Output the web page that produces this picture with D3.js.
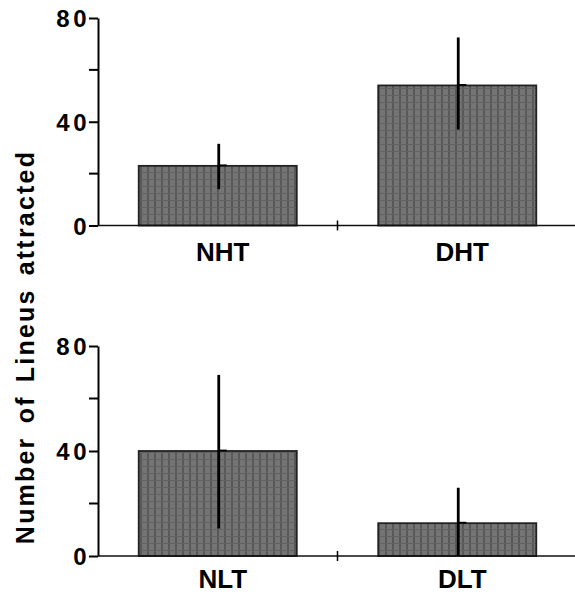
<!DOCTYPE html>
<html>
<head>
<meta charset="utf-8">
<script src="https://cdn.jsdelivr.net/npm/d3@7/dist/d3.min.js"></script>
<style>
body{margin:0;background:#fff}
svg{display:block}
text{font-family:"Liberation Sans",Arial,sans-serif;font-weight:bold;fill:#000}
.tick text{font-size:24px;letter-spacing:3.5px}
.cat{font-size:26px}
.title{font-size:25px;letter-spacing:2.2px;word-spacing:4px}
</style>
</head>
<body>
<svg id="graph"></svg>
<script>
// values
var topCategories = ["NHT","DHT"]
var topMeans = [23,54]
var topHigh = [31.5,72.5]
var topLow = [14,37]

var bottomCategories = ["NLT","DLT"]
var bottomMeans = [40,12.5]
var bottomHigh = [69,26]
var bottomLow = [10.5,0]

var yTicks = [0,40,80]
var yMinorTicks = [20,60]

var screen = {width:575,height:596}

var svg = d3.select("#graph")
    .attr("width",screen.width)
    .attr("height",screen.height)

// scan-like bar texture
var pat = svg.append("defs").append("pattern")
    .attr("id","barTex")
    .attr("patternUnits","userSpaceOnUse")
    .attr("width",7)
    .attr("height",7)
pat.append("rect").attr("width",7).attr("height",7).attr("fill","#747474")
pat.append("rect").attr("x",0).attr("width",2).attr("height",7).attr("fill","#585858")
pat.append("rect").attr("y",4).attr("width",7).attr("height",1).attr("fill","#626262")

var drawPanel = function(categories,means,high,low,panel)
{
    var rows = categories.map(function(c,i){
        return {cat:c,mean:means[i],hi:high[i],lo:low[i]}
    })

    var xScale = d3.scaleBand()
        .domain(categories)
        .range([98,577])
        .paddingInner(0.34)
        .paddingOuter(0.17)

    var yScale = d3.scaleLinear()
        .domain([0,80])
        .range([panel.bottom,panel.top])

    var g = svg.append("g")

    // bars
    g.selectAll("rect.bar")
        .data(rows)
        .enter()
        .append("rect")
        .attr("class","bar")
        .attr("x",function(d){return xScale(d.cat)})
        .attr("y",function(d){return yScale(d.mean)})
        .attr("width",xScale.bandwidth())
        .attr("height",function(d){return yScale(0)-yScale(d.mean)})
        .attr("fill","url(#barTex)")
        .attr("stroke","#222")
        .attr("stroke-width",1.8)

    // error lines
    g.selectAll("line.err")
        .data(rows)
        .enter()
        .append("line")
        .attr("class","err")
        .attr("x1",function(d){return xScale(d.cat)+xScale.bandwidth()/2+1})
        .attr("x2",function(d){return xScale(d.cat)+xScale.bandwidth()/2+1})
        .attr("y1",function(d){return yScale(d.hi)})
        .attr("y2",function(d){return yScale(d.lo)})
        .attr("stroke","#000")
        .attr("stroke-width",2.8)

    // mean marks
    g.selectAll("line.mark")
        .data(rows)
        .enter()
        .append("line")
        .attr("class","mark")
        .attr("x1",function(d){return xScale(d.cat)+xScale.bandwidth()/2+1})
        .attr("x2",function(d){return xScale(d.cat)+xScale.bandwidth()/2+9})
        .attr("y1",function(d){return yScale(d.mean)-0.5})
        .attr("y2",function(d){return yScale(d.mean)-0.5})
        .attr("stroke","#000")
        .attr("stroke-width",1.8)

    // y axis
    var yAxis = d3.axisLeft(yScale)
        .tickValues(yTicks)
        .tickSize(9)
        .tickSizeOuter(0)
        .tickFormat(d3.format("d"))
    var ya = g.append("g")
        .attr("transform","translate(98,0)")
        .call(yAxis)
    ya.select(".domain").attr("stroke","#000").attr("stroke-width",2)
    ya.selectAll(".tick line").attr("stroke-width",2)
    ya.selectAll(".tick text")
        .attr("x",-8)
        .attr("dy","0.37em")
        .attr("font-size",null)
        .attr("font-family",null)

    g.selectAll("line.minor")
        .data(yMinorTicks)
        .enter()
        .append("line")
        .attr("class","minor")
        .attr("x1",89)
        .attr("x2",98)
        .attr("y1",function(d){return yScale(d)})
        .attr("y2",function(d){return yScale(d)})
        .attr("stroke","#000")
        .attr("stroke-width",2)

    // x axis line and middle tick
    g.append("line")
        .attr("x1",98)
        .attr("x2",575)
        .attr("y1",yScale(0))
        .attr("y2",yScale(0))
        .attr("stroke","#111")
        .attr("stroke-width",1.6)

    var midX = (xScale(categories[0])+xScale.bandwidth()+xScale(categories[1]))/2
    g.append("line")
        .attr("x1",midX)
        .attr("x2",midX)
        .attr("y1",yScale(0)-5)
        .attr("y2",yScale(0)+5)
        .attr("stroke","#000")
        .attr("stroke-width",1.5)

    // category labels
    g.selectAll("text.cat")
        .data(rows)
        .enter()
        .append("text")
        .attr("class","cat")
        .attr("text-anchor","middle")
        .attr("x",function(d){return xScale(d.cat)+xScale.bandwidth()/2+5})
        .attr("y",yScale(0)+panel.labelGap)
        .text(function(d){return d.cat})
}

drawPanel(topCategories,topMeans,topHigh,topLow,{top:18,bottom:225.5,labelGap:35})
drawPanel(bottomCategories,bottomMeans,bottomHigh,bottomLow,{top:346,bottom:556,labelGap:32})

// shared y title
svg.append("g")
    .attr("transform","translate(34,347)")
    .append("text")
    .attr("class","title")
    .attr("text-anchor","middle")
    .attr("transform","rotate(-90)")
    .text("Number of Lineus attracted")
</script>
</body>
</html>
